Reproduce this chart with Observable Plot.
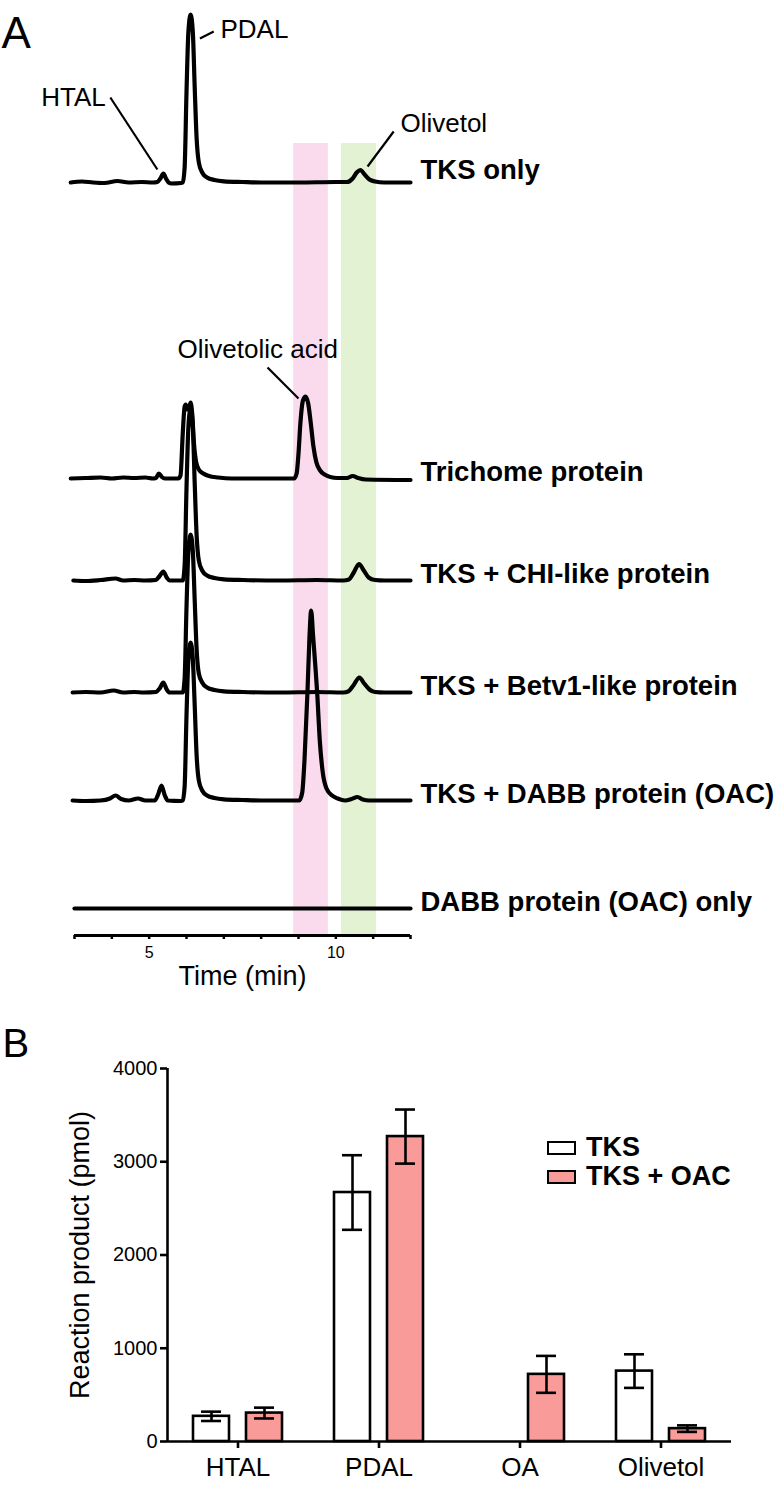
<!DOCTYPE html>
<html><head><meta charset="utf-8">
<script src="https://cdn.jsdelivr.net/npm/d3@7"></script>
<script src="https://cdn.jsdelivr.net/npm/@observablehq/plot@0.6"></script>
<style>
body{margin:0;background:#fff;}
#fig{position:relative;width:783px;height:1485px;font-family:"Liberation Sans",Arial,Helvetica,sans-serif;}
#panelA{position:absolute;left:0;top:0;}
#panelB{position:absolute;left:0;top:1000px;}
.leg{position:absolute;left:547px;display:flex;align-items:center;height:29px;font-weight:bold;font-size:27px;color:#000;}
.box{width:29px;height:14px;box-sizing:border-box;border:2.6px solid #000;margin-right:10px;}
</style></head><body>
<div id="fig"><div id="panelA"></div><div id="panelB"></div><div id="legend"></div></div>
<script>
// ---------- Panel A data: chromatogram traces [time (min), signal (a.u.)] ----------
const sampleNames = ["TKS only","Trichome protein","TKS + CHI-like protein","TKS + Betv1-like protein","TKS + DABB protein (OAC)","DABB protein (OAC) only"];
const tksOnly = [[2.9,0],[3.2,1],[3.5,0],[3.8,-0.5],[4.15,1.5],[4.45,0],[4.8,0.5],[5.1,0],[5.22,0.5],[5.3,4],[5.38,9],[5.45,4],[5.52,0],[5.6,-1],[5.85,-0.5],[5.9,0],[5.95,15],[6.0,90],[6.05,150],[6.11,168],[6.17,150],[6.22,95],[6.27,45],[6.33,20],[6.42,10],[6.55,5],[6.75,2.5],[7.0,1.2],[7.5,0.5],[8.0,0],[9.0,0],[10.0,0.5],[10.3,0.5],[10.45,4],[10.56,10],[10.66,12.5],[10.77,8],[10.9,3],[11.05,1],[11.3,0],[12,0]];
const trichome = [[2.9,0],[3.3,0.5],[3.7,1],[4.0,0],[4.3,1],[4.6,0.5],[4.9,1],[5.1,0],[5.18,0.5],[5.26,5],[5.34,1.5],[5.42,0],[5.78,0],[5.84,3],[5.9,45],[5.95,72],[5.98,74],[6.02,69],[6.06,70],[6.11,76],[6.15,66],[6.2,35],[6.26,16],[6.33,9],[6.45,5],[6.6,2.5],[6.85,1],[7.2,0],[8.0,0],[8.88,0],[8.95,5],[9.0,25],[9.05,55],[9.12,78],[9.19,82],[9.26,75],[9.33,55],[9.4,32],[9.48,16],[9.58,8],[9.7,4],[9.85,1.5],[10.05,0.5],[10.3,0.5],[10.45,2.5],[10.6,0.5],[10.8,-1],[12,-1.5]];
const tksChi = [[2.97,0],[3.3,-0.5],[3.7,0.5],[4.1,2],[4.3,0],[4.6,0.5],[4.9,0],[5.18,0.5],[5.27,4],[5.38,9],[5.47,3],[5.55,0],[5.85,0],[5.9,0],[5.95,15],[6.0,92],[6.05,153],[6.11,172],[6.17,153],[6.22,97],[6.27,46],[6.33,20],[6.42,10],[6.55,5],[6.75,2.5],[7.0,1.2],[7.5,0.5],[8.5,0],[9.5,0.5],[10.2,0],[10.35,1],[10.48,8],[10.62,16.5],[10.75,10],[10.88,3],[11.05,0.5],[11.3,0],[12,0]];
const tksBetv1 = [[2.95,0],[3.3,0.5],[3.7,0],[4.05,2],[4.3,0],[4.6,0.5],[4.85,0],[5.18,0.5],[5.28,4],[5.38,10],[5.47,3],[5.55,0],[5.85,0],[5.9,0],[5.95,14],[6.0,85],[6.05,141],[6.11,158],[6.17,141],[6.22,92],[6.27,44],[6.33,19],[6.42,10],[6.55,5],[6.75,2.5],[7.0,1.2],[7.5,0.5],[8.5,0],[9.5,0.5],[10.2,0],[10.33,1],[10.47,7],[10.63,15],[10.76,9],[10.9,3],[11.05,0.5],[11.3,0],[12,0]];
const tksDabb = [[2.95,0],[3.3,-0.5],[3.7,0],[3.95,2],[4.1,5],[4.25,1.5],[4.45,0],[4.7,2],[4.9,0],[5.15,0],[5.24,6],[5.33,15],[5.42,5],[5.5,0],[5.85,-0.5],[5.9,0],[5.95,14],[6.0,85],[6.05,141],[6.11,158],[6.17,141],[6.22,95],[6.27,46],[6.33,20],[6.42,10],[6.55,5],[6.75,2.5],[7.0,1.2],[7.5,0.5],[8.0,0],[9.02,0],[9.1,8],[9.16,40],[9.24,108],[9.29,160],[9.34,190],[9.39,165],[9.45,135],[9.5,108],[9.57,60],[9.65,28],[9.75,12],[9.9,5],[10.05,2],[10.25,0],[10.42,1.5],[10.58,3.5],[10.72,1],[10.9,0],[12,0]];
const dabbOnly = [[3.0,0],[6.0,0],[9.0,0],[12,0]];
const traces = [tksOnly, trichome, tksChi, tksBetv1, tksDabb, dabbOnly];

// highlighted retention windows
const bandNames = ["Olivetolic acid window","Olivetol window"];
const bandStart = [8.87, 10.15];
const bandEnd = [9.80, 11.09];
const bandColors = ["#fadbee", "#e3f2d2"];

// x-axis ticks (min)
const timeTicks = [3,4,5,6,7,8,9,10,11,12];
const timeTickLabels = [5, 10];

// peak annotations: label, label anchor (time, level) and leader line
const annotationText = ["HTAL","PDAL","Olivetol","Olivetolic acid"];
const annotationAt = [[2.11,830],[6.91,898],[11.73,804],[5.76,578]];
const leaderFrom = [[3.96,838],[6.36,897],[11.55,804],[8.17,568]];
const leaderTo = [[5.22,766],[6.73,904],[10.85,769],[9.0,537]];

// ---------- Panel B data ----------
const categories = ["HTAL","PDAL","OA","Olivetol"];
const seriesNames = ["TKS","TKS + OAC"];
const tksMean = [270, 2670, 0, 755];
const tksSD = [50, 400, 0, 180];
const oacMean = [305, 3270, 720, 138];
const oacSD = [58, 290, 198, 35];
const yTicks = [0, 1000, 2000, 3000, 4000];

// ---------- layout ----------
const FONT = '"Liberation Sans", Arial, Helvetica, sans-serif';
const stackOffset = [753, 457, 355, 243, 135, 27];   // vertical stacking of traces
const labelLift = [12, 6, 6, 6, 6, 6];
const bandTop = stackOffset[0] + 39;

const rows = traces.flatMap((tr, i) => tr.map(([t, s]) => ({sample: sampleNames[i], t, y: stackOffset[i] + s})));
const labelRows = sampleNames.map((name, i) => ({name, t: 12, y: stackOffset[i] + labelLift[i]}));
const bandRows = bandNames.map((name, i) => ({name, start: bandStart[i], end: bandEnd[i], y1: 0, y2: bandTop, color: bandColors[i]}));
const annRows = annotationText.map((label, i) => ({label, t: annotationAt[i][0], y: annotationAt[i][1]}));
const leaderRows = annotationText.map((label, i) => ({x1: leaderFrom[i][0], y1: leaderFrom[i][1], x2: leaderTo[i][0], y2: leaderTo[i][1]}));

const plotA = Plot.plot({
  width: 783, height: 1000,
  marginLeft: 74, marginRight: 373, marginTop: 0, marginBottom: 65,
  x: {domain: [3, 12]},
  y: {domain: [0, 935], axis: null},
  style: {fontFamily: FONT, fontSize: "16px", background: "transparent", overflow: "visible", color: "#000"},
  marks: [
    ...bandRows.map(b => Plot.rect([b], {x1: "start", x2: "end", y1: "y1", y2: "y2", fill: b.color})),
    Plot.ruleY([0], {strokeWidth: 3}),
    Plot.axisX({ticks: timeTicks, tickSize: 4, tickPadding: 7, strokeWidth: 2.5, fontSize: 16,
      tickFormat: d => timeTickLabels.includes(d) ? String(d) : "", label: null}),
    Plot.text(["Time (min)"], {text: d => d, frameAnchor: "bottom", dy: 49, fontSize: 27, fontFamily: FONT}),
    Plot.line(rows, {x: "t", y: "y", z: "sample", curve: "monotone-x", stroke: "#000", strokeWidth: 4.2, strokeLinejoin: "round", strokeLinecap: "round"}),
    Plot.link(leaderRows, {x1: "x1", y1: "y1", x2: "x2", y2: "y2", stroke: "#000", strokeWidth: 2.2}),
    Plot.text(annRows, {x: "t", y: "y", text: "label", textAnchor: "start", lineAnchor: "bottom", fontSize: 26, fontFamily: FONT}),
    Plot.text(labelRows, {x: "t", y: "y", text: "name", dx: 10, textAnchor: "start", lineAnchor: "middle", fontSize: 27.5, fontWeight: "bold", fontFamily: FONT}),
    Plot.text(["A"], {text: d => d, frameAnchor: "top-left", dx: -73, dy: 47, textAnchor: "start", lineAnchor: "bottom", fontSize: 44, fontFamily: FONT})
  ]
});
document.getElementById("panelA").appendChild(plotA);

// ---------- Panel B ----------
const tksRows = categories.map((cat, i) => ({cat, mean: tksMean[i], lo: tksMean[i] - tksSD[i], hi: tksMean[i] + tksSD[i]})).filter(d => d.mean > 0);
const oacRows = categories.map((cat, i) => ({cat, mean: oacMean[i], lo: oacMean[i] - oacSD[i], hi: oacMean[i] + oacSD[i]})).filter(d => d.mean > 0);
const SW = 2.6;
const salmon = "#f99b98";

const plotB = Plot.plot({
  width: 783, height: 485,
  marginLeft: 167, marginRight: 52, marginTop: 68, marginBottom: 44,
  x: {type: "band", domain: categories, padding: 0},
  y: {domain: [0, 4000]},
  style: {fontFamily: FONT, fontSize: "20px", background: "transparent", overflow: "visible", color: "#000"},
  marks: [
    Plot.barY(tksRows, {x: "cat", y: "mean", fill: "#fff", stroke: "#000", strokeWidth: SW, insetLeft: 26, insetRight: 79}),
    Plot.barY(oacRows, {x: "cat", y: "mean", fill: salmon, stroke: "#000", strokeWidth: SW, insetLeft: 79, insetRight: 26}),
    Plot.ruleX(tksRows, {x: "cat", y1: "lo", y2: "hi", dx: -26.5, stroke: "#000", strokeWidth: SW}),
    Plot.tickY(tksRows, {x: "cat", y: "hi", insetLeft: 34, insetRight: 87, stroke: "#000", strokeWidth: SW}),
    Plot.tickY(tksRows, {x: "cat", y: "lo", insetLeft: 34, insetRight: 87, stroke: "#000", strokeWidth: SW}),
    Plot.ruleX(oacRows, {x: "cat", y1: "lo", y2: "hi", dx: 26.5, stroke: "#000", strokeWidth: SW}),
    Plot.tickY(oacRows, {x: "cat", y: "hi", insetLeft: 87, insetRight: 34, stroke: "#000", strokeWidth: SW}),
    Plot.tickY(oacRows, {x: "cat", y: "lo", insetLeft: 87, insetRight: 34, stroke: "#000", strokeWidth: SW}),
    Plot.ruleY([0], {stroke: "#000", strokeWidth: SW}),
    Plot.ruleX([categories[0]], {x: d => d, y1: 0, y2: 4000, dx: -70.5, stroke: "#000", strokeWidth: SW}),
    Plot.axisY({ticks: yTicks, tickSize: 7, tickPadding: 3, strokeWidth: SW, fontSize: 20, tickFormat: d => String(d), label: null}),
    Plot.axisX({tickSize: 7, tickPadding: 9, strokeWidth: SW, fontSize: 26, label: null}),
    Plot.text(["Reaction product (pmol)"], {text: d => d, frameAnchor: "left", dx: -87, rotate: -90, textAnchor: "middle", lineAnchor: "middle", fontSize: 27, fontFamily: FONT}),
    Plot.text(["B"], {text: d => d, frameAnchor: "top-left", dx: -165, dy: -12, textAnchor: "start", lineAnchor: "bottom", fontSize: 40, fontFamily: FONT})
  ]
});
document.getElementById("panelB").appendChild(plotB);

// legend
const legend = document.getElementById("legend");
const legendFill = ["#fff", salmon];
const legendTop = [1133, 1162];
seriesNames.forEach((name, i) => {
  const row = document.createElement("div");
  row.className = "leg";
  row.style.top = legendTop[i] + "px";
  const box = document.createElement("span");
  box.className = "box";
  box.style.background = legendFill[i];
  const txt = document.createElement("span");
  txt.textContent = name;
  row.appendChild(box); row.appendChild(txt);
  legend.appendChild(row);
});
</script>
</body></html>
